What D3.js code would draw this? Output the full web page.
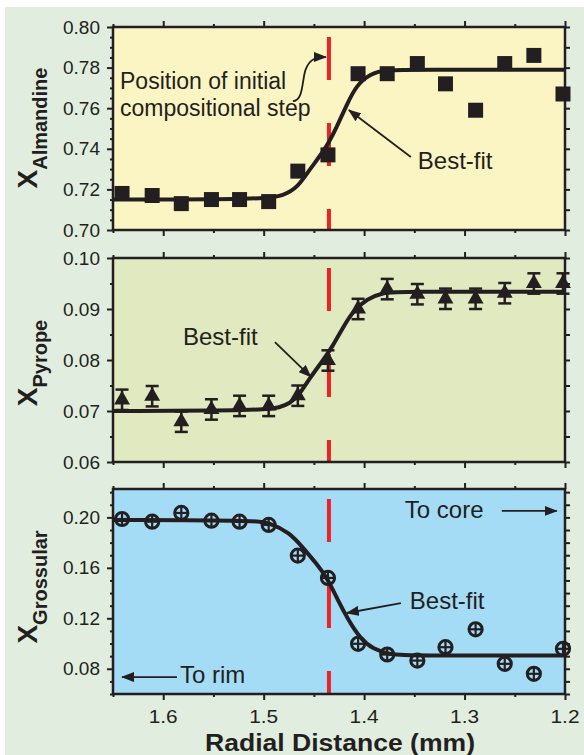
<!DOCTYPE html>
<html>
<head>
<meta charset="utf-8">
<script src="https://cdn.jsdelivr.net/npm/d3@7"></script>
<style>
  body { margin: 0; background: #fff; }
  svg { display: block; font-family: "Liberation Sans", Arial, Helvetica, sans-serif; }
</style>
</head>
<body>
<svg id="chart" width="584" height="755"></svg>
<script>
// values
var dist = [1.641, 1.611, 1.582, 1.552, 1.524, 1.495, 1.466, 1.436, 1.406, 1.377, 1.347, 1.319, 1.289, 1.260, 1.231, 1.202];

var almandine = [0.718, 0.717, 0.713, 0.715, 0.715, 0.714, 0.729, 0.737, 0.777, 0.777, 0.782, 0.772, 0.759, 0.782, 0.786, 0.767];
var pyrope = [0.0722, 0.0729, 0.0679, 0.0703, 0.0710, 0.0710, 0.0730, 0.0799, 0.0900, 0.0939, 0.0929, 0.0920, 0.0920, 0.0931, 0.0950, 0.0950];
var pyropeErr = [0.002, 0.002, 0.002, 0.002, 0.002, 0.002, 0.002, 0.002, 0.002, 0.002, 0.002, 0.002, 0.002, 0.002, 0.002, 0.002];
var grossular = [0.1987, 0.1966, 0.2035, 0.1974, 0.1966, 0.1940, 0.1697, 0.1520, 0.0998, 0.0913, 0.0865, 0.0971, 0.1113, 0.0839, 0.0760, 0.0958];

// best-fit curves, traced point by point
var almFitX = [1.65, 1.50, 1.480, 1.466, 1.454, 1.437, 1.427, 1.417, 1.408, 1.394, 1.378, 1.35, 1.2];
var almFitY = [0.715, 0.715, 0.717, 0.721, 0.730, 0.741, 0.751, 0.762, 0.771, 0.777, 0.779, 0.779, 0.779];
var pyrFitX = [1.65, 1.499, 1.484, 1.474, 1.465, 1.454, 1.441, 1.431, 1.421, 1.411, 1.397, 1.381, 1.367, 1.2];
var pyrFitY = [0.0700, 0.0701, 0.0707, 0.0715, 0.0730, 0.0765, 0.0799, 0.0828, 0.0864, 0.0896, 0.0920, 0.0932, 0.0934, 0.0934];
var grsFitX = [1.65, 1.509, 1.495, 1.474, 1.461, 1.447, 1.436, 1.426, 1.416, 1.404, 1.391, 1.374, 1.354, 1.2];
var grsFitY = [0.198, 0.1975, 0.196, 0.188, 0.176, 0.163, 0.151, 0.134, 0.119, 0.104, 0.0955, 0.0911, 0.0905, 0.0905];

var stepPos = 1.435;

var xTicks = [1.6, 1.5, 1.4, 1.3, 1.2];
var xTickLabels = ["1.6", "1.5", "1.4", "1.3", "1.2"];
var xMinor = [1.65, 1.55, 1.45, 1.35, 1.25];
var almTicks = [0.70, 0.72, 0.74, 0.76, 0.78, 0.80];
var pyrTicks = [0.06, 0.07, 0.08, 0.09, 0.10];
var grsTicks = [0.08, 0.12, 0.16, 0.20];

var width = 584, height = 755;
var ink = "#231f20";
var svg = d3.select("#chart");

svg.append("rect").attr("x", 5).attr("y", 7)
  .attr("width", width - 5).attr("height", height - 7)
  .attr("fill", "#e1eedf");

var defs = svg.append("defs");
defs.append("marker")
  .attr("id", "head")
  .attr("viewBox", "0 0 13 10")
  .attr("refX", 12).attr("refY", 5)
  .attr("markerWidth", 13).attr("markerHeight", 10)
  .attr("markerUnits", "userSpaceOnUse")
  .attr("orient", "auto")
  .append("path").attr("d", "M0,0L13,5L0,10Z").attr("fill", ink);

var x = d3.scaleLinear().domain([1.65, 1.2]).range([113, 565]);

var panels = [
  { sub: "Almandine", top: 27, bottom: 230, domain: [0.70, 0.80], ticks: almTicks,
    minorStep: 0.005, rightStep: 0.01, fill: "#fbf5c3", values: almandine,
    fitX: almFitX, fitY: almFitY, marker: "square", labelY: 128 },
  { sub: "Pyrope", top: 258, bottom: 462, domain: [0.06, 0.10], ticks: pyrTicks,
    minorStep: 0.005, rightStep: 0.005, fill: "#e0e9bf", values: pyrope, err: pyropeErr,
    fitX: pyrFitX, fitY: pyrFitY, marker: "triangle", labelY: 363 },
  { sub: "Grossular", top: 489, bottom: 694, domain: [0.06, 0.2225], ticks: grsTicks,
    minorStep: 0.01, rightStep: 0.01, fill: "#a4dcf5", values: grossular,
    fitX: grsFitX, fitY: grsFitY, marker: "circle", labelY: 587 }
];

function styleAxis(g) {
  g.select(".domain").remove();
  g.selectAll("line").attr("stroke", ink).attr("stroke-width", 2);
  g.selectAll("text").attr("fill", ink).attr("font-size", 19);
  g.attr("font-family", null).attr("font-size", null);
}

panels.forEach(function(p) {
  var y = d3.scaleLinear().domain(p.domain).range([p.bottom, p.top]);
  p.y = y;
  var g = svg.append("g");

  g.append("rect")
    .attr("x", x.range()[0]).attr("y", p.top)
    .attr("width", x.range()[1] - x.range()[0]).attr("height", p.bottom - p.top)
    .attr("fill", p.fill);

  // initial step position
  g.append("line")
    .attr("x1", x(stepPos)).attr("x2", x(stepPos))
    .attr("y1", p.top).attr("y2", p.bottom)
    .attr("stroke", "#ed2227").attr("stroke-width", 4)
    .attr("stroke-dasharray", "43,43").attr("stroke-dashoffset", 76);

  var line = d3.line()
    .x(function(d) { return x(d[0]); })
    .y(function(d) { return y(d[1]); })
    .curve(d3.curveBasis);

  g.append("path")
    .datum(d3.zip(p.fitX, p.fitY))
    .attr("d", line)
    .attr("fill", "none").attr("stroke", ink).attr("stroke-width", 4);

  var pts = d3.zip(dist, p.values, p.err || dist.map(function() { return 0; }));

  if (p.marker === "square") {
    g.selectAll(".pt").data(pts).enter().append("path")
      .attr("transform", function(d) { return "translate(" + x(d[0]) + "," + y(d[1]) + ")"; })
      .attr("d", d3.symbol(d3.symbolSquare, 225))
      .attr("fill", ink);
  } else if (p.marker === "triangle") {
    var eb = g.selectAll(".eb").data(pts).enter().append("g")
      .attr("transform", function(d) { return "translate(" + x(d[0]) + ",0)"; })
      .attr("stroke", ink).attr("stroke-width", 2.5);
    eb.append("line")
      .attr("y1", function(d) { return y(d[1] - d[2]); })
      .attr("y2", function(d) { return y(d[1] + d[2]); });
    eb.append("line").attr("x1", -6.5).attr("x2", 6.5)
      .attr("y1", function(d) { return y(d[1] - d[2]); })
      .attr("y2", function(d) { return y(d[1] - d[2]); });
    eb.append("line").attr("x1", -6.5).attr("x2", 6.5)
      .attr("y1", function(d) { return y(d[1] + d[2]); })
      .attr("y2", function(d) { return y(d[1] + d[2]); });
    g.selectAll(".pt").data(pts).enter().append("path")
      .attr("transform", function(d) { return "translate(" + x(d[0]) + "," + y(d[1]) + ")"; })
      .attr("d", d3.symbol(d3.symbolTriangle, 110))
      .attr("fill", ink);
  } else {
    var c = g.selectAll(".pt").data(pts).enter().append("g")
      .attr("transform", function(d) { return "translate(" + x(d[0]) + "," + y(d[1]) + ")"; })
      .attr("stroke", ink);
    c.append("circle").attr("r", 6.6).attr("fill", "none").attr("stroke-width", 3);
    c.append("line").attr("x1", -6.5).attr("x2", 6.5).attr("stroke-width", 2.2);
    c.append("line").attr("y1", -6.5).attr("y2", 6.5).attr("stroke-width", 2.2);
  }

  // frame
  g.append("rect")
    .attr("x", x.range()[0]).attr("y", p.top)
    .attr("width", x.range()[1] - x.range()[0]).attr("height", p.bottom - p.top)
    .attr("fill", "none").attr("stroke", ink).attr("stroke-width", 2.5);

  // axes
  var minor = d3.range(p.domain[0], p.domain[1] + 1e-9, p.minorStep).filter(function(v) {
    return !p.ticks.some(function(t) { return Math.abs(t - v) < 1e-6; });
  });
  var rightT = d3.range(p.domain[0], p.domain[1] + 1e-9, p.rightStep);

  g.append("g").attr("transform", "translate(" + x.range()[0] + ",0)")
    .call(d3.axisLeft(y).tickValues(p.ticks).tickSize(6).tickPadding(7).tickFormat(d3.format(".2f")))
    .call(styleAxis);
  g.append("g").attr("transform", "translate(" + x.range()[0] + ",0)")
    .call(d3.axisLeft(y).tickValues(minor).tickSize(3).tickFormat(""))
    .call(styleAxis);
  g.append("g").attr("transform", "translate(" + x.range()[1] + ",0)")
    .call(d3.axisRight(y).tickValues(rightT).tickSize(5).tickFormat(""))
    .call(styleAxis);
  g.append("g").attr("transform", "translate(0," + p.top + ")")
    .call(d3.axisTop(x).tickValues(xTicks).tickSize(6).tickFormat(""))
    .call(styleAxis);
  g.append("g").attr("transform", "translate(0," + p.top + ")")
    .call(d3.axisTop(x).tickValues(xMinor).tickSize(3).tickFormat(""))
    .call(styleAxis);
  g.append("g").attr("transform", "translate(0," + p.bottom + ")")
    .call(d3.axisBottom(x).tickValues(xTicks).tickSize(6).tickFormat(""))
    .call(styleAxis);
  g.append("g").attr("transform", "translate(0," + p.bottom + ")")
    .call(d3.axisBottom(x).tickValues(xMinor).tickSize(3).tickFormat(""))
    .call(styleAxis);

  // y label
  var lab = svg.append("text")
    .attr("transform", "translate(37," + p.labelY + ") rotate(-90)")
    .attr("text-anchor", "middle")
    .attr("font-weight", "bold").attr("fill", ink);
  lab.append("tspan").attr("font-size", 28).text("X");
  lab.append("tspan").attr("font-size", 20).attr("dy", 10).text(p.sub);
});

// x tick labels and title
svg.append("g").selectAll("text").data(xTicks).enter().append("text")
  .attr("x", function(d) { return x(d); }).attr("y", 723)
  .attr("text-anchor", "middle").attr("font-size", 18).attr("fill", ink)
  .attr("textLength", 29).attr("lengthAdjust", "spacingAndGlyphs")
  .text(function(d, i) { return xTickLabels[i]; });

svg.append("text")
  .attr("x", 205).attr("y", 751)
  .attr("font-size", 23.5).attr("font-weight", "bold")
  .attr("textLength", 270).attr("lengthAdjust", "spacingAndGlyphs")
  .attr("fill", ink).text("Radial Distance (mm)");

// annotations
function note(p, xv, yv, str, size) {
  svg.append("text").attr("x", x(xv)).attr("y", p.y(yv))
    .attr("font-size", size || 24).attr("fill", ink).text(str);
}
function arrow(p, from, to) {
  svg.append("line")
    .attr("x1", x(from[0])).attr("y1", p.y(from[1]))
    .attr("x2", x(to[0])).attr("y2", p.y(to[1]))
    .attr("stroke", ink).attr("stroke-width", 1.8)
    .attr("marker-end", "url(#head)");
}

var pAlm = panels[0], pPyr = panels[1], pGrs = panels[2];

note(pAlm, 1.643, 0.7695, "Position of initial", 23);
note(pAlm, 1.643, 0.7562, "compositional step", 23);
var c0 = [x(1.471), pAlm.y(0.7635)], c1 = [x(1.438), pAlm.y(0.7852)];
svg.append("path")
  .attr("d", "M" + c0[0] + "," + c0[1] +
    "C" + (c0[0] + 11) + "," + c0[1] + " " + (c0[0] + 9) + "," + (c0[1] - 22) + " " + (c0[0] + 13) + "," + (c0[1] - 32) +
    "S" + (c1[0] - 10) + "," + c1[1] + " " + c1[0] + "," + c1[1])
  .attr("fill", "none").attr("stroke", ink).attr("stroke-width", 1.8)
  .attr("marker-end", "url(#head)");
note(pAlm, 1.3465, 0.7299, "Best-fit");
arrow(pAlm, [1.3535, 0.736], [1.4152, 0.7591]);

note(pPyr, 1.5803, 0.0829, "Best-fit");
arrow(pPyr, [1.4888, 0.0835], [1.453, 0.0767]);

note(pGrs, 1.3545, 0.1274, "Best-fit");
arrow(pGrs, [1.3634, 0.1321], [1.4172, 0.1242]);
note(pGrs, 1.3595, 0.1995, "To core");
arrow(pGrs, [1.2629, 0.2051], [1.2082, 0.2051]);
note(pGrs, 1.5833, 0.0687, "To rim");
arrow(pGrs, [1.5863, 0.0734], [1.641, 0.0734]);
</script>
</body>
</html>
